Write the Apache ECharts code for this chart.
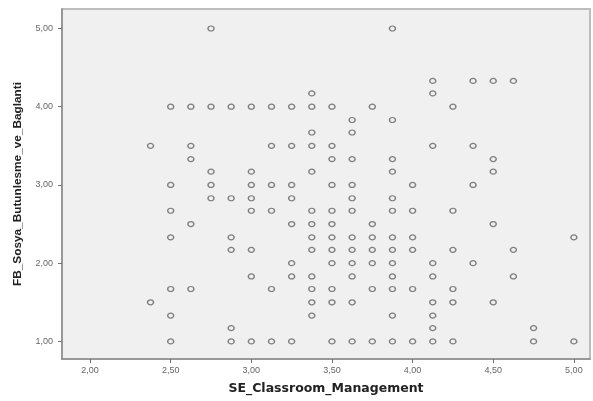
<!DOCTYPE html>
<html>
<head>
<meta charset="utf-8">
<script src="https://cdn.jsdelivr.net/npm/echarts@6/dist/echarts.min.js"></script>
<style>
  html, body { margin: 0; padding: 0; background: #ffffff; }
  #chart { width: 593px; height: 401px; }
</style>
</head>
<body>
<div id="chart"></div>
<script>
// FB_Sosya_Butunlesme_ve_Baglanti levels (y) and the SE_Classroom_Management values (x) seen at each level
const fbLevels = [5.00, 4.33, 4.17, 4.00, 3.83, 3.67, 3.50, 3.33, 3.17, 3.00, 2.83,
                  2.67, 2.50, 2.33, 2.17, 2.00, 1.83, 1.67, 1.50, 1.33, 1.17, 1.00];
const seAtLevel = [
  [2.75, 3.875],
  [4.125, 4.375, 4.5, 4.625],
  [3.375, 4.125],
  [2.5, 2.625, 2.75, 2.875, 3.0, 3.125, 3.25, 3.375, 3.5, 3.75, 4.25],
  [3.625, 3.875],
  [3.375, 3.625],
  [2.375, 2.625, 3.125, 3.25, 3.375, 3.5, 4.125, 4.375],
  [2.625, 3.5, 3.625, 3.875, 4.5],
  [2.75, 3.0, 3.375, 3.875, 4.5],
  [2.5, 2.75, 3.0, 3.125, 3.25, 3.5, 3.625, 4.0, 4.375],
  [2.75, 2.875, 3.0, 3.25, 3.625, 3.875],
  [2.5, 3.0, 3.125, 3.375, 3.5, 3.625, 3.875, 4.0, 4.25],
  [2.625, 3.25, 3.375, 3.5, 3.75, 4.5],
  [2.5, 2.875, 3.375, 3.5, 3.625, 3.75, 3.875, 4.0, 5.0],
  [2.875, 3.0, 3.375, 3.5, 3.625, 3.75, 3.875, 4.0, 4.25, 4.625],
  [3.25, 3.5, 3.625, 3.75, 3.875, 4.125, 4.375],
  [3.0, 3.25, 3.375, 3.625, 3.875, 4.125, 4.625],
  [2.5, 2.625, 3.125, 3.375, 3.5, 3.75, 3.875, 4.0, 4.25],
  [2.375, 3.375, 3.5, 3.625, 4.125, 4.25, 4.5],
  [2.5, 3.375, 3.875, 4.125],
  [2.875, 4.125, 4.75],
  [2.5, 2.875, 3.0, 3.125, 3.25, 3.5, 3.625, 3.75, 3.875, 4.0, 4.125, 4.25, 4.75, 5.0]
];
const xTicks = [2.0, 2.5, 3.0, 3.5, 4.0, 4.5, 5.0];
const yTicks = [1.0, 2.0, 3.0, 4.0, 5.0];

const points = [];
fbLevels.forEach(function (y, i) {
  seAtLevel[i].forEach(function (x) { points.push([x, y]); });
});

const fmt = function (v) { return v.toFixed(2).replace('.', ','); };

const chart = echarts.init(document.getElementById('chart'), null, { renderer: 'canvas' });
chart.setOption({
  animation: false,
  backgroundColor: '#ffffff',
  grid: {
    left: 62, top: 9, right: 3, bottom: 42,
    show: true,
    backgroundColor: '#f0f0f0',
    borderColor: '#bdbdbd',
    borderWidth: 2
  },
  xAxis: {
    type: 'value',
    min: 1.826, max: 5.1,
    name: 'SE_Classroom_Management',
    nameLocation: 'middle',
    nameGap: 23,
    nameTextStyle: { fontFamily: 'DejaVu Sans', fontWeight: 'bold', fontSize: 12.5, color: '#222' },
    splitLine: { show: false },
    axisLine: { show: true, onZero: false, lineStyle: { color: '#8c8c8c', width: 1.5 } },
    axisTick: { show: true, length: 4, lineStyle: { color: '#707070' }, customValues: xTicks },
    axisLabel: {
      customValues: xTicks, margin: 7,
      fontFamily: 'Liberation Sans', fontSize: 9, color: '#666',
      formatter: fmt
    }
  },
  yAxis: {
    type: 'value',
    min: 0.775, max: 5.249,
    name: 'FB_Sosya_Butunlesme_ve_Baglanti',
    nameLocation: 'middle',
    nameGap: 38,
    nameTextStyle: { fontFamily: 'Liberation Sans', fontWeight: 'bold', fontSize: 11.8, color: '#222' },
    splitLine: { show: false },
    axisLine: { show: true, onZero: false, lineStyle: { color: '#8c8c8c', width: 1.5 } },
    axisTick: { show: true, length: 4, lineStyle: { color: '#707070' }, customValues: yTicks },
    axisLabel: {
      customValues: yTicks, margin: 9,
      fontFamily: 'Liberation Sans', fontSize: 9, color: '#666',
      formatter: fmt
    }
  },
  series: [{
    type: 'scatter',
    data: points,
    symbol: 'circle',
    symbolSize: [6, 5],
    itemStyle: { color: 'rgba(0,0,0,0)', borderColor: '#626262', borderWidth: 1.3 },
    silent: true
  }]
});
</script>
</body>
</html>
